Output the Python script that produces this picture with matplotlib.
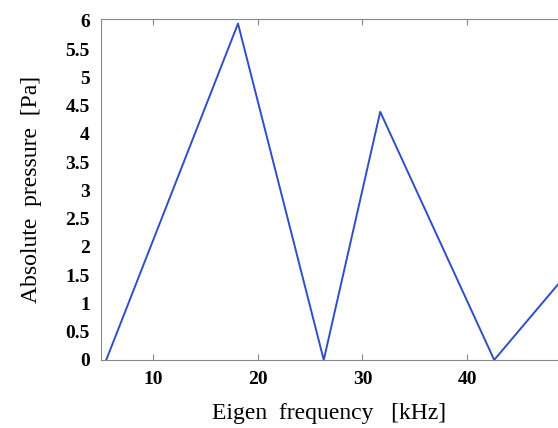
import matplotlib.pyplot as plt

freq_khz = [5.5, 18.1, 26.3, 31.7, 42.6, 48.9]
pressure_pa = [0.0, 5.95, 0.0, 4.39, 0.0, 1.38]

x_ticks = [10, 20, 30, 40]
y_ticks = [0, 0.5, 1, 1.5, 2, 2.5, 3, 3.5, 4, 4.5, 5, 5.5, 6]
y_labels = ["0", "0.5", "1", "1.5", "2", "2.5", "3", "3.5", "4", "4.5", "5", "5.5", "6"]

plt.rcParams["font.family"] = ["Liberation Serif", "DejaVu Serif"]

fig = plt.figure(figsize=(5.58, 4.28), dpi=100)
ax = fig.add_axes([0.181, 0.159, 0.819, 0.797])

ax.plot(freq_khz, pressure_pa, color="#2f4fc4", linewidth=1.4)

ax.set_xlim(5, 48.7)
ax.set_ylim(0, 6.035)
ax.set_xticks(x_ticks)
ax.set_yticks(y_ticks)
ax.set_yticklabels(y_labels)

for lbl in ax.get_xticklabels() + ax.get_yticklabels():
    lbl.set_fontweight("bold")
    lbl.set_fontsize(14)

ax.tick_params(axis="x", direction="in", top=True, length=4, pad=8, color="#888888")
ax.tick_params(axis="y", direction="in", length=0, pad=8)

for side in ["left", "bottom", "top"]:
    ax.spines[side].set_color("#888888")
ax.spines["right"].set_visible(False)

ax.set_xlabel("Eigen  frequency   [kHz]", fontsize=17, labelpad=11)
ax.set_ylabel("Absolute  pressure  [Pa]", fontsize=17, labelpad=17)

fig.savefig("out.png", dpi=100)
